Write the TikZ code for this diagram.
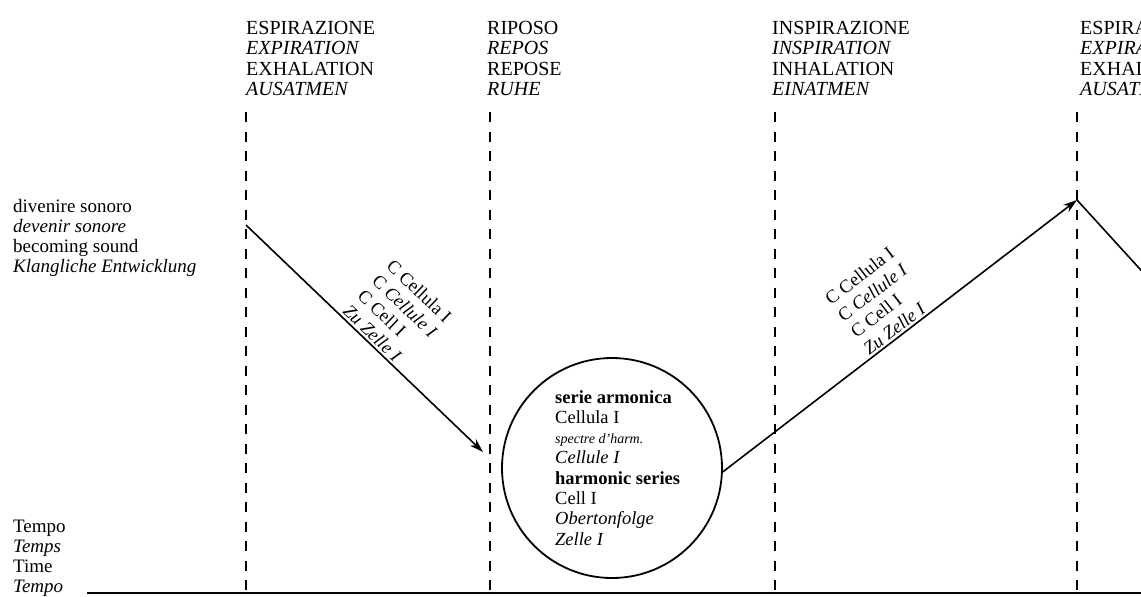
\documentclass[tikz,border=0pt]{standalone}
\usepackage{fontspec}
\setmainfont{Liberation Serif}
\usetikzlibrary{arrows.meta}
\begin{document}
\begin{tikzpicture}[x=1pt,y=-1pt,
  lab/.style={inner sep=0pt, align=left, anchor=north west, font=\fontsize{19}{20}\selectfont},
  head/.style={inner sep=0pt, align=left, anchor=north west, font=\fontsize{20}{20.3}\selectfont},
  slab/.style={inner sep=2pt, align=left, sloped, anchor=south west, font=\fontsize{18.5}{21}\selectfont},
  vdash/.style={line width=1.9pt, dash pattern=on 10pt off 9.5pt},
  conn/.style={line width=1.6pt},
  arr/.style={conn, -{Stealth[length=14pt,width=9pt]}},
  circ/.style={circle, draw, line width=1.8pt, minimum size=220pt, inner sep=0pt}]
\clip (0,0) rectangle (1141,597);
\fill[white] (0,0) rectangle (1141,597);
% guide lines
\foreach \n/\x in {1/246,2/490,3/775,4/1077}{
  \coordinate (d\n t) at (\x,112);
  \coordinate (d\n b) at (\x,597);
  \draw[vdash] (d\n t) -- (d\n b);
}
\coordinate (ax0) at (87,593);
\coordinate (ax1) at (1141,593);
\draw[line width=1.8pt] (ax0) -- (ax1);
% headers
\node[head] (h1) at (246,21) {ESPIRAZIONE\\\textit{EXPIRATION}\\EXHALATION\\\textit{AUSATMEN}};
\node[head] (h2) at (487,21) {RIPOSO\\\textit{REPOS}\\REPOSE\\\textit{RUHE}};
\node[head] (h3) at (772,21) {INSPIRAZIONE\\\textit{INSPIRATION}\\INHALATION\\\textit{EINATMEN}};
\node[head] (h4) at (1080,21) {ESPIRAZIONE\\\textit{EXPIRATION}\\EXHALATION\\\textit{AUSATMEN}};
% left labels
\node[lab] (l1) at (13,199) {divenire sonoro\\\textit{devenir sonore}\\becoming sound\\\textit{Klangliche Entwicklung}};
\node[lab] (l2) at (13,520) {Tempo\\\textit{Temps}\\Time\\\textit{Tempo}};
% circle
\node[circ] (c) at (612,468) {};
\node[lab, font=\fontsize{18.5}{20.3}\selectfont] (ct) at (555,390) {\textbf{serie armonica}\\Cellula I\\{\fontsize{14}{14}\selectfont\textit{spectre d'harm.}}\\\textit{Cellule I}\\\textbf{harmonic series}\\Cell I\\\textit{Obertonfolge}\\\textit{Zelle I}};
% arrows
\coordinate (s1) at (246,225);
\coordinate (t1) at (483,452);
\coordinate (pk) at (1077,200);
\coordinate (e3) at (1170,302);
\draw[arr] (s1) -- (t1) node[slab, pos=0.388] (a1) {C Cellula I\\C \textit{Cellule I}\\C Cell I\\\textit{Zu Zelle I}};
\draw[arr] (c.-2) -- (pk) node[slab, pos=0.413] (a2) {C Cellula I\\C \textit{Cellule I}\\C Cell I\\\textit{Zu Zelle I}};
\draw[conn] (pk) -- (e3);
\end{tikzpicture}
\end{document}
